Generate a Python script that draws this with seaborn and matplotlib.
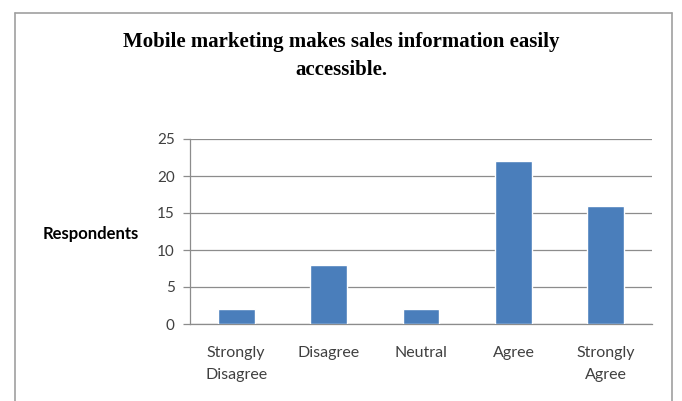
import matplotlib
matplotlib.use("Agg")
import matplotlib.pyplot as plt
from matplotlib.lines import Line2D
import seaborn as sns
import pandas as pd
import numpy as np

categories = ["Strongly\nDisagree", "Disagree", "Neutral", "Agree", "Strongly\nAgree"]
respondents = [2, 8, 2, 22, 16]
y_ticks = [0, 5, 10, 15, 20, 25]
title = "Mobile marketing makes sales information easily\naccessible."
y_label = "Respondents"

sns.set_theme(style="white")
plt.rcParams["font.family"] = ["Lato", "DejaVu Sans"]

df = pd.DataFrame({"category": categories, "respondents": respondents})

fig = plt.figure(figsize=(6.82, 4.01), dpi=100)
ax = fig.add_axes([190 / 682, 1 - 324 / 401, (652 - 190) / 682, (324 - 139) / 401])

sns.barplot(data=df, x="category", y="respondents", color="#4A7EBB",
            width=0.4, saturation=1, ax=ax, zorder=3)

ax.set_ylim(0, 25)
ax.set_xlim(-0.5, len(categories) - 0.5)
ax.set_yticks(y_ticks)
ax.yaxis.grid(True, color="#8C8C8C", linewidth=0.9, zorder=0)
ax.set_axisbelow(True)

for side in ["top", "right"]:
    ax.spines[side].set_visible(False)
for side in ["left", "bottom"]:
    ax.spines[side].set_color("#8C8C8C")
    ax.spines[side].set_linewidth(0.9)

# category boundaries carry the x tick marks; labels sit at bar centres
ax.set_xticks(np.arange(-0.5, len(categories)), minor=True)
ax.tick_params(axis="x", which="minor", length=5, color="#8C8C8C", width=0.9, direction="out")
ax.tick_params(axis="x", which="major", length=0, pad=16, labelsize=11.5, labelcolor="#404040")
for lbl in ax.get_xticklabels():
    lbl.set_linespacing(1.7)
ax.tick_params(axis="y", which="major", length=5, color="#8C8C8C", width=0.9,
               direction="out", labelsize=11, labelcolor="#404040", pad=6, left=True)
ax.set_xlabel("")
ax.set_ylabel("")

fig.text(91 / 682, 1 - 234 / 401, y_label, ha="center", va="center",
         fontsize=12, fontweight="bold", color="#000000")

fig.text(341 / 682, 1 - 56 / 401, title, ha="center", va="center",
         fontsize=15, fontweight="bold", family=["Liberation Serif", "DejaVu Serif"],
         linespacing=1.5, color="#000000")

# chart frame
frame_color = "#A0A0A0"
fx0, fx1, fy0 = 15 / 682, 672 / 682, 1 - 13 / 401
fig.add_artist(Line2D([fx0, fx1], [fy0, fy0], color=frame_color, linewidth=1.2, transform=fig.transFigure))
fig.add_artist(Line2D([fx0, fx0], [0, fy0], color=frame_color, linewidth=1.2, transform=fig.transFigure))
fig.add_artist(Line2D([fx1, fx1], [0, fy0], color=frame_color, linewidth=1.2, transform=fig.transFigure))

fig.savefig("out.png", dpi=100)
